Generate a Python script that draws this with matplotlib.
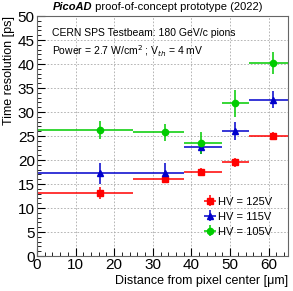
import matplotlib
matplotlib.use("Agg")
import matplotlib.pyplot as plt
import numpy as np
from matplotlib.ticker import MultipleLocator

plt.rcParams['font.family'] = ['Liberation Sans', 'DejaVu Sans']

# bins in distance from pixel center [um]
bin_lo = [0, 25, 38, 48, 55]
bin_hi = [25, 38, 48, 55, 65]
x_pts = [16.4, 33.1, 42.6, 51.2, 61.2]

res_125 = [13.1, 16.0, 17.6, 19.5, 25.1]
err_125 = [1.2, 0.8, 0.7, 0.9, 0.7]
res_115 = [17.2, 17.3, 22.7, 26.0, 32.6]
err_115 = [2.1, 2.1, 1.5, 1.9, 1.7]
res_105 = [26.2, 25.8, 23.5, 31.8, 40.2]
err_105 = [1.9, 1.8, 2.3, 2.8, 2.3]

series = [
    ("HV = 125V", res_125, err_125, "#ff0000", "s"),
    ("HV = 115V", res_115, err_115, "#0000cc", "^"),
    ("HV = 105V", res_105, err_105, "#00cc00", "o"),
]

fig = plt.figure(figsize=(2.93, 2.91), dpi=100)
ax = fig.add_axes([0.126, 0.120, 0.857, 0.825])

xl = np.array(x_pts) - np.array(bin_lo)
xh = np.array(bin_hi) - np.array(x_pts)

handles = []
for label, y, e, c, m in series:
    h = ax.errorbar(x_pts, y, yerr=e, xerr=[xl, xh], fmt=m, color=c,
                    ms=4.5, lw=1.1, elinewidth=1.1, capsize=0, label=label)
    handles.append(h)

ax.set_xlim(0, 65)
ax.set_ylim(0, 50)
ax.xaxis.set_major_locator(MultipleLocator(10))
ax.xaxis.set_minor_locator(MultipleLocator(2))
ax.yaxis.set_major_locator(MultipleLocator(5))
ax.yaxis.set_minor_locator(MultipleLocator(1))
ax.tick_params(which='both', direction='in', labelsize=11, pad=1.5)
ax.tick_params(which='major', length=6)
ax.tick_params(which='minor', length=3)
ax.grid(True, which='major', ls=(0, (2, 2)), color='#aaaaaa', lw=0.6)
for s in ax.spines.values():
    s.set_color('#666666')

ax.set_xlabel("Distance from pixel center [\u03bcm]", fontsize=9, loc='right', labelpad=2)
ax.set_ylabel("Time resolution [ps]", fontsize=9, loc='top', labelpad=2)

ax.text(0.06, 0.93, "CERN SPS Testbeam: 180 GeV/c pions", transform=ax.transAxes,
        fontsize=7.5, va='center')
ax.text(0.06, 0.855, "Power = 2.7 W/cm$^2$ ; V$_{th}$ = 4 mV", transform=ax.transAxes,
        fontsize=7.5, va='center')

t1 = fig.text(53 / 293, 1 - 7 / 291, "PicoAD", fontsize=8, weight='bold', style='italic',
              va='center')
ax.annotate(" proof-of-concept prototype (2022)", xy=(1, 0), xycoords=t1,
            fontsize=8, va='bottom', ha='left', annotation_clip=False)

ax.legend(handles=handles, loc='upper left', bbox_to_anchor=(0.645, 0.27),
          frameon=False, fontsize=8, handlelength=1.0, handletextpad=0.2,
          labelspacing=0.45, borderpad=0)

fig.savefig("out.png", dpi=100)
